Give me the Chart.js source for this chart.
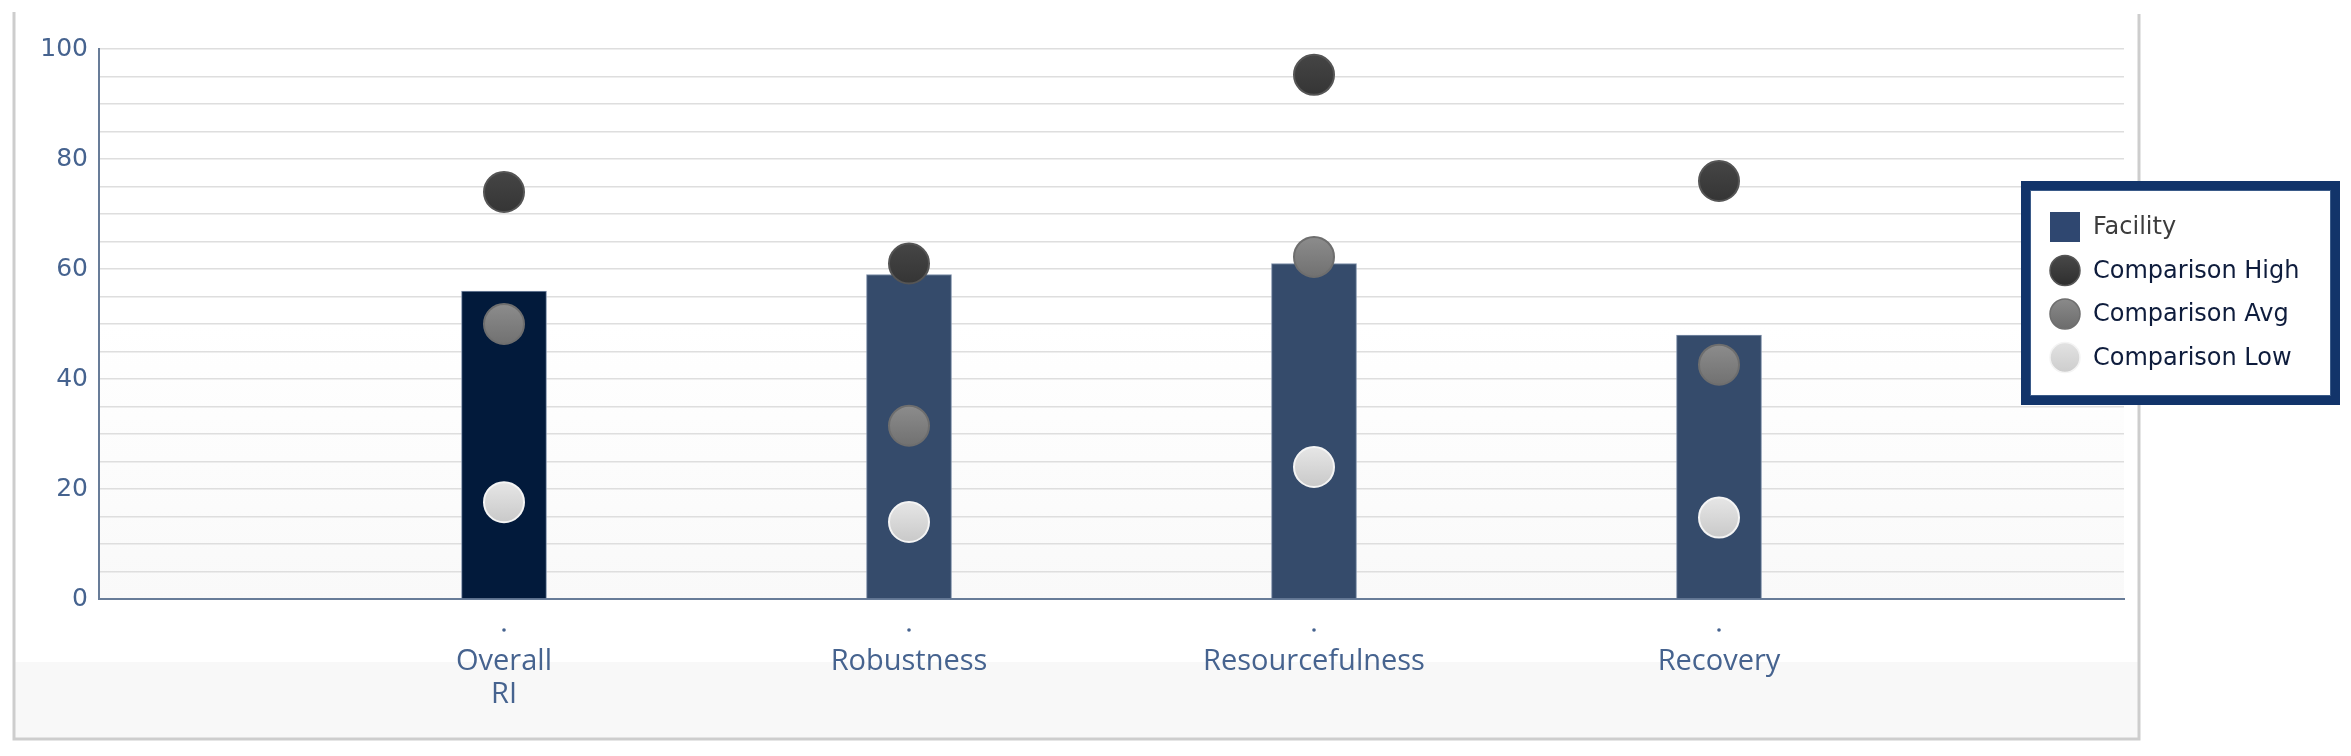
<!DOCTYPE html>
<html>
<head>
<meta charset="utf-8">
<script src="https://cdn.jsdelivr.net/npm/chart.js@4/dist/chart.umd.min.js"></script>
<style>
  html, body { margin: 0; padding: 0; background: #fff; }
  #wrap { width: 2351px; height: 756px; }
</style>
</head>
<body>
<div id="wrap"><canvas id="riChart" width="2351" height="756"></canvas></div>
<script>
// --- DATA ---
const categories = ["", ["Overall", "RI"], "Robustness", "Resourcefulness", "Recovery", ""];
const facility = [null, 56, 59, 61, 48, null];
const compHigh = [null, 74, 61, 95.3, 76, null];
const compAvg = [null, 50, 31.5, 62.2, 42.6, null];
const compLow = [null, 17.6, 14, 24, 14.8, null];
const barColors = ["#354b6b", "#021a3b", "#354b6b", "#354b6b", "#354b6b", "#354b6b"];
const yTicks = [0, 20, 40, 60, 80, 100];

const labelBlue = "#46638f";
const axisBlue = "#687c98";

// gradient for the round markers
function ballFill(top, bottom) {
  return (ctx) => {
    const chart = ctx.chart;
    if (ctx.raw == null || !chart.scales.y) return top;
    const y = chart.scales.y.getPixelForValue(ctx.raw);
    const g = chart.ctx.createLinearGradient(0, y - 20, 0, y + 20);
    g.addColorStop(0, top);
    g.addColorStop(1, bottom);
    return g;
  };
}

// --- FRAME + BAND ---
const framePlugin = {
  id: "frame",
  beforeDraw(chart) {
    const { ctx, chartArea } = chart;
    ctx.save();
    ctx.fillStyle = "#f8f8f8";
    ctx.fillRect(14, 662, 2125, 77);
    const g = ctx.createLinearGradient(0, chartArea.top, 0, chartArea.bottom);
    g.addColorStop(0, "#ffffff");
    g.addColorStop(0.5, "#ffffff");
    g.addColorStop(1, "#f9f9f9");
    ctx.fillStyle = g;
    ctx.fillRect(chartArea.left, chartArea.top, chartArea.right - chartArea.left, chartArea.bottom - chartArea.top);
    ctx.strokeStyle = "#cdcdcd";
    ctx.lineWidth = 3;
    ctx.beginPath();
    ctx.moveTo(14, 12);
    ctx.lineTo(14, 739);
    ctx.lineTo(2139, 739);
    ctx.lineTo(2139, 14);
    ctx.stroke();
    ctx.restore();
  },
  // little dot above every category label
  afterDraw(chart) {
    const { ctx } = chart;
    const xs = chart.scales.x;
    ctx.save();
    ctx.fillStyle = labelBlue;
    xs.ticks.forEach((t, i) => {
      if (!categories[i]) return;
      ctx.beginPath();
      ctx.arc(xs.getPixelForTick(i), 630, 1.8, 0, Math.PI * 2);
      ctx.fill();
    });
    ctx.restore();
  }
};

// --- LEGEND BOX ---
const legendPlugin = {
  id: "boxLegend",
  afterDraw(chart) {
    const { ctx } = chart;
    const bx = 2021, by = 181, bw = 319, bh = 224;
    ctx.save();
    ctx.fillStyle = "#ffffff";
    ctx.fillRect(bx, by, bw, bh);
    ctx.strokeStyle = "#12346a";
    ctx.lineWidth = 9;
    ctx.strokeRect(bx + 4.5, by + 4.5, bw - 9, bh - 9);
    ctx.strokeStyle = "#3a5a88";
    ctx.lineWidth = 1;
    ctx.strokeRect(bx + 9.5, by + 9.5, bw - 19, bh - 19);

    ctx.font = "24px 'DejaVu Sans', Verdana, sans-serif";
    ctx.textBaseline = "middle";
    ctx.textAlign = "left";
    chart.data.datasets.forEach((ds, i) => {
      const cy = 227 + i * 43.5;
      if (ds.type === "line") {
        ctx.beginPath();
        ctx.arc(2065, cy, 15, 0, Math.PI * 2);
        const g = ctx.createLinearGradient(0, cy - 15, 0, cy + 15);
        g.addColorStop(0, ds.legendTop);
        g.addColorStop(1, ds.legendBottom);
        ctx.fillStyle = g;
        ctx.fill();
        ctx.lineWidth = 1.5;
        ctx.strokeStyle = ds.pointBorderColor;
        ctx.stroke();
        ctx.fillStyle = "#0e1c3c";
      } else {
        ctx.fillStyle = "#2f4770";
        ctx.fillRect(2050, cy - 15, 30, 30);
        ctx.fillStyle = "#3c3c3c";
      }
      ctx.fillText(ds.label, 2093, cy + 1);
    });
    ctx.restore();
  }
};

const pointDefaults = {
  type: "line",
  showLine: false,
  pointRadius: 20,
  pointHoverRadius: 20,
  pointBorderWidth: 2,
  order: 0
};

new Chart(document.getElementById("riChart").getContext("2d"), {
  type: "bar",
  data: {
    labels: categories,
    datasets: [
      {
        label: "Facility",
        data: facility,
        backgroundColor: barColors,
        borderColor: "#7d8ea8",
        borderWidth: 1,
        barThickness: 85,
        order: 10
      },
      Object.assign({}, pointDefaults, {
        label: "Comparison High", data: compHigh,
        pointBackgroundColor: ballFill("#454545", "#353535"),
        pointBorderColor: "#555555",
        legendTop: "#484848", legendBottom: "#2e2e2e"
      }),
      Object.assign({}, pointDefaults, {
        label: "Comparison Avg", data: compAvg,
        pointBackgroundColor: ballFill("#8c8c8c", "#717171"),
        pointBorderColor: "#6e6e6e",
        legendTop: "#8a8a8a", legendBottom: "#6c6c6c"
      }),
      Object.assign({}, pointDefaults, {
        label: "Comparison Low", data: compLow,
        pointBackgroundColor: ballFill("#e6e6e6", "#c9c9c9"),
        pointBorderColor: "#f4f4f4",
        legendTop: "#e2e2e2", legendBottom: "#cdcdcd"
      })
    ]
  },
  options: {
    responsive: false,
    animation: false,
    devicePixelRatio: 1,
    layout: { padding: { top: 49, right: 227, left: 0, bottom: 0 } },
    plugins: { legend: { display: false }, tooltip: { enabled: false } },
    scales: {
      x: {
        offset: false,
        grid: { display: false },
        border: { display: true, color: axisBlue, width: 2 },
        ticks: {
          autoSkip: false,
          maxRotation: 0,
          padding: 38,
          color: labelBlue,
          font: { family: "'Open Sans', 'Noto Sans', sans-serif", size: 29, lineHeight: "33px" }
        },
        afterFit: (s) => { s.height = 157; }
      },
      y: {
        min: 0,
        max: 100,
        grid: { color: "#dedede", lineWidth: 1.5, drawTicks: false },
        border: { display: true, color: axisBlue, width: 2 },
        ticks: {
          stepSize: 5,
          autoSkip: false,
          padding: 11,
          color: labelBlue,
          font: { family: "'DejaVu Sans', Verdana, sans-serif", size: 25 },
          callback: (v) => yTicks.includes(v) ? String(v) : ""
        },
        afterFit: (s) => { s.width = 99; }
      }
    }
  },
  plugins: [framePlugin, legendPlugin]
});
</script>
</body>
</html>
